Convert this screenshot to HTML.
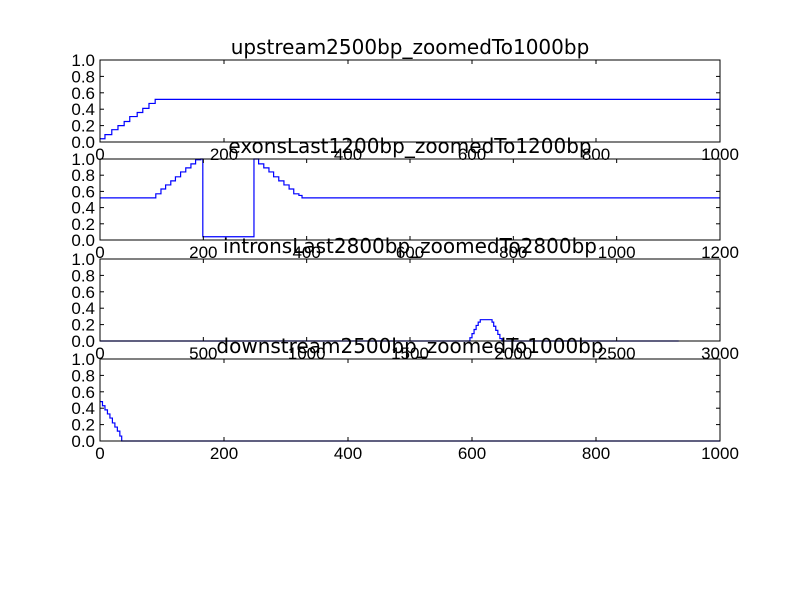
<!DOCTYPE html>
<html><head><meta charset="utf-8"><style>
body{margin:0;background:#fff}
svg text{font-family:"Liberation Sans",sans-serif;font-size:17px;fill:#000}
svg text.ttl{font-family:"DejaVu Sans",sans-serif;font-size:20px}
</style></head><body>
<svg id="c" width="800" height="600" xmlns="http://www.w3.org/2000/svg">
<rect width="800" height="600" fill="#fff"/>
</svg>
<script>
const titles=["upstream2500bp_zoomedTo1000bp","exonsLast1200bp_zoomedTo1200bp","intronsLast2800bp_zoomedTo2800bp","downstream2500bp_zoomedTo1000bp"];
const xMaxs=[1000,1200,3000,1000];
const xTickVals=[[0,200,400,600,800,1000],[0,200,400,600,800,1000,1200],[0,500,1000,1500,2000,2500,3000],[0,200,400,600,800,1000]];
const yTickVals=[[0,0.2,0.4,0.6,0.8,1.0],[0,0.2,0.4,0.6,0.8,1.0],[0,0.2,0.4,0.6,0.8,1.0],[0,0.2,0.4,0.6,0.8,1.0]];
const s1x=[0,8,19,29,39,48,60,69,79,89,1000];
const s1y=[0.04,0.09,0.15,0.2,0.25,0.31,0.36,0.41,0.47,0.52,0.52];
const s2x=[0,108,118,127,137,146,156,166,176,185,195,199,298,307,317,327,336,346,356,366,375,385,391,1200];
const s2y=[0.52,0.57,0.63,0.68,0.73,0.78,0.84,0.89,0.94,0.99,1.0,0.04,1.0,0.94,0.89,0.84,0.78,0.73,0.68,0.63,0.57,0.55,0.52,0.52];
const s3x=[0,1790,1800,1810,1820,1830,1840,1897,1905,1915,1925,1935,1945,2800];
const s3y=[0,0.04,0.09,0.14,0.19,0.23,0.26,0.23,0.18,0.13,0.08,0.03,0,0];
const s4x=[0,4,8,12,16,20,24,28,32,35,1000];
const s4y=[0.48,0.43,0.38,0.33,0.28,0.22,0.17,0.12,0.06,0,0];
const series=[[s1x,s1y],[s2x,s2y],[s3x,s3y],[s4x,s4y]];
const tops=[60,159,259,359],bots=[142,240,341,441];
const L=100,R=720,NS="http://www.w3.org/2000/svg",svg=document.getElementById('c');
function mk(t,a,p){const e=document.createElementNS(NS,t);for(const k in a)e.setAttribute(k,a[k]);(p||svg).appendChild(e);return e;}
for(let i=0;i<4;i++){
 const T=tops[i],B=bots[i],xm=xMaxs[i];
 const X=v=>L+v/xm*(R-L),Y=v=>B-v*(B-T);
 const g=mk('g',{});
 
 
 let d='',xs=series[i][0],ys=series[i][1];
 for(let j=0;j<xs.length;j++){
  const px=X(xs[j]),py=Y(ys[j]);
  if(j==0)d+='M'+px+' '+py;else d+=' H'+px+' V'+py;
 }
 const ln=mk('path',{d:d,fill:'none',stroke:'#00f','stroke-width':1.2},g);
 
 
 const fr=mk('rect',{x:L,y:T,width:R-L,height:B-T,fill:'none',stroke:'#000','stroke-width':1},g);
 
 
 xTickVals[i].forEach(v=>{const px=X(v);
  mk('line',{x1:px,x2:px,y1:B,y2:B-4,stroke:'#000'},g);
  mk('line',{x1:px,x2:px,y1:T,y2:T+4,stroke:'#000'},g);
  const t=mk('text',{x:px,y:B+18,'text-anchor':'middle'},g);t.textContent=v;
  
  });
 yTickVals[i].forEach(v=>{const py=Y(v);
  mk('line',{x1:L,x2:L+4,y1:py,y2:py,stroke:'#000'},g);
  mk('line',{x1:R,x2:R-4,y1:py,y2:py,stroke:'#000'},g);
  const t=mk('text',{x:L-5,y:py+6,'text-anchor':'end'},g);t.textContent=v.toFixed(1);
  
  });
 const tt=mk('text',{x:410,y:T-6,'text-anchor':'middle','class':'ttl'},g);tt.textContent=titles[i];
 
 
}
</script>
</body></html>
